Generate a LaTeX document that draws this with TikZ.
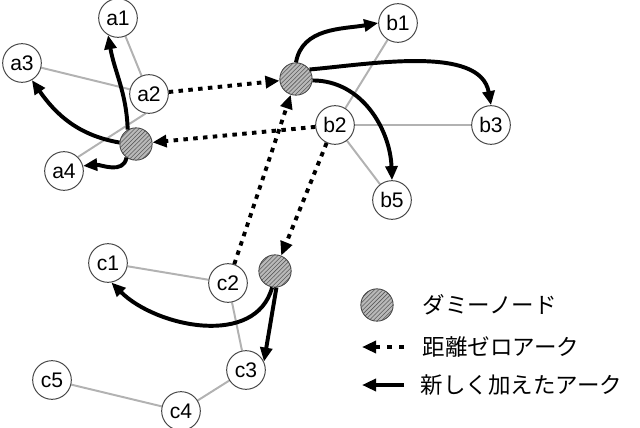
\documentclass[tikz,border=0pt]{standalone}
\usepackage{fontspec}
\setmainfont{Liberation Sans}
\newfontfamily\jpfont{Noto Sans CJK JP}
\usetikzlibrary{
  arrows.meta,
  patterns,
  backgrounds
}
\definecolor{edgecolor}{RGB}{178, 178, 178}
\definecolor{rimcolor}{RGB}{70, 70, 70}
\definecolor{dummycolor}{RGB}{185, 185, 185}
\definecolor{hatchcolor}{RGB}{90, 90, 90}
\tikzset{
vertex/.style={
  circle,
  draw=rimcolor,
  line width=0.7pt,
  fill=white,
  minimum size=27.5pt,
  inner sep=0pt,
  font=\fontsize{15}{15}\selectfont
},
dummynode/.style={
  circle,
  draw=rimcolor,
  line width=0.6pt,
  preaction={fill=dummycolor},
  pattern=north east lines,
  pattern color=hatchcolor,
  minimum size=23pt,
  inner sep=0pt
},
baseedge/.style={
  draw=edgecolor,
  line width=1.4pt
},
newarc/.style={
  -{Triangle[length=10pt,width=8.5pt]},
  line width=2.8pt
},
zeroarc/.style={
  newarc,
  dash pattern=on 3.2pt off 3.8pt
},
legendtext/.style={
  anchor=west,
  font=\jpfont\fontsize{16}{16}\selectfont
}
}
\begin{document}
\begin{tikzpicture}[x=0.025cm,y=0.025cm]
  \useasboundingbox (0,0) rectangle (640,-428);

  % group a
  \node[vertex] (a1) at (118,-18) {a1};
  \node[vertex] (a2) at (149,-94) {a2};
  \node[vertex] (a3) at (22,-63) {a3};
  \node[vertex] (a4) at (64,-171) {a4};
  \node[dummynode] (da) at (136,-144) {};

  % group b
  \node[vertex] (b1) at (398,-23) {b1};
  \node[vertex] (b2) at (335,-125) {b2};
  \node[vertex] (b3) at (491,-125) {b3};
  \node[vertex] (b5) at (392,-200) {b5};
  \node[dummynode] (db) at (296,-79) {};

  % group c
  \node[vertex] (c1) at (108,-263) {c1};
  \node[vertex] (c2) at (228,-283) {c2};
  \node[vertex] (c3) at (246,-370) {c3};
  \node[vertex] (c4) at (181,-411) {c4};
  \node[vertex] (c5) at (52,-380) {c5};
  \node[dummynode] (dc) at (275,-271) {};

  % original edges
  \begin{scope}[on background layer]
    \draw[baseedge] (a1) -- (a2);
    \draw[baseedge] (a3) -- (a2);
    \draw[baseedge] (a4.45) -- (a2.-100);
    \draw[baseedge] (b1) -- (b2);
    \draw[baseedge] (b2) -- (b3);
    \draw[baseedge] (b2) -- (b5);
    \draw[baseedge] (c1) -- (c2);
    \draw[baseedge] (c2) -- (c3);
    \draw[baseedge] (c3) -- (c4);
    \draw[baseedge] (c4) -- (c5);
  \end{scope}

  % zero length arcs
  \draw[zeroarc] (a2) -- (db);
  \draw[zeroarc] (b2) -- (da);
  \draw[zeroarc] (c2) -- (db);
  \draw[zeroarc] (b2.-115) -- (dc);

  % new arcs
  \draw[newarc] (da.120) to[out=92, in=-80] (a1.-120);
  \draw[newarc] (da.175) to[out=170, in=-55] (a3.-60);
  \draw[newarc] (da.-125) to[out=-100, in=5] (a4.15);
  \draw[newarc] (db.90) to[out=80, in=190] (b1.west);
  \draw[newarc] (db.35) to[out=5, in=100, looseness=0.85] (b3.north);
  \draw[newarc] (db.-5) to[out=0, in=92] (b5.north);
  \draw[newarc] (dc.-100) to[out=-105, in=-45] (c1.-80);
  \draw[newarc] (dc.-85) -- (c3.25);

  % Legend
  \node[dummynode] (keydummy) at (377,-305) {};
  \node[legendtext] (keydummytext) at (418,-305) {ダミーノード};
  \coordinate (keyzerofrom) at (404,-347);
  \coordinate (keyzeroto) at (362,-347);
  \draw[zeroarc, dash pattern=on 3.5pt off 5pt] (keyzerofrom) -- (keyzeroto);
  \node[legendtext] (keyzerotext) at (418,-347) {距離ゼロアーク};
  \coordinate (keynewfrom) at (404,-385);
  \coordinate (keynewto) at (362,-385);
  \draw[newarc] (keynewfrom) -- (keynewto);
  \node[legendtext] (keynewtext) at (416,-385) {新しく加えたアーク};
\end{tikzpicture}
\end{document}
